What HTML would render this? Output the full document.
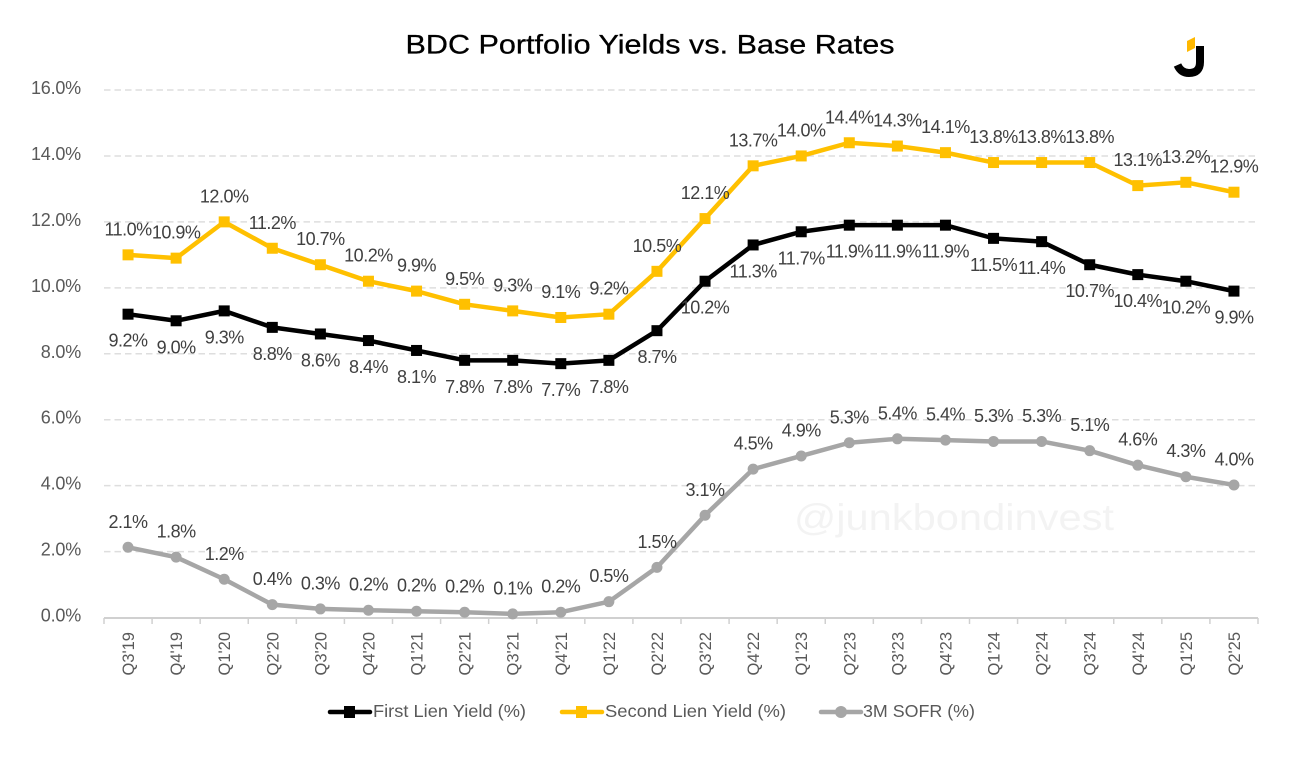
<!DOCTYPE html>
<html lang="en">
<head>
<meta charset="utf-8">
<title>BDC Portfolio Yields vs. Base Rates</title>
<style>
html,body{margin:0;padding:0;background:#fff;width:1316px;height:774px;overflow:hidden}
svg{display:block;font-family:"Liberation Sans",sans-serif}
</style>
</head>
<body>
<svg id="chart" width="1316" height="774" viewBox="0 0 1316 774" xmlns="http://www.w3.org/2000/svg">
<rect width="1316" height="774" fill="#fff"/>
<text x="650" y="53.5" text-anchor="middle" font-size="27" fill="#000" stroke="#000" stroke-width="0.3" textLength="489" lengthAdjust="spacingAndGlyphs">BDC Portfolio Yields vs. Base Rates</text>
<g>
<polygon points="1187,41 1195,37 1195,48 1187,52" fill="#ffb800"/>
<path d="M1200,46 V62 Q1200,73 1189,73 Q1181,73 1177.5,65" fill="none" stroke="#000" stroke-width="8"/>
</g>
<text x="954" y="530" text-anchor="middle" font-size="37" fill="#f3f3f3" textLength="320" lengthAdjust="spacingAndGlyphs">@junkbondinvest</text>
<g id="grid"></g>
<g id="axes"></g>
<g id="series"></g>
<g id="labels"></g>
<g font-size="17.5" fill="#595959">
<g>
<line x1="330" x2="370" y1="712" y2="712" stroke="#000" stroke-width="4.5" stroke-linecap="round"/>
<rect x="344" y="706" width="11" height="12" fill="#000"/>
<text x="373" y="717" textLength="153" lengthAdjust="spacingAndGlyphs">First Lien Yield (%)</text>
</g>
<g>
<line x1="562" x2="602" y1="712" y2="712" stroke="#ffc000" stroke-width="4.5" stroke-linecap="round"/>
<rect x="576" y="706" width="11" height="12" fill="#ffc000"/>
<text x="605" y="717" textLength="181" lengthAdjust="spacingAndGlyphs">Second Lien Yield (%)</text>
</g>
<g>
<line x1="821" x2="861" y1="712" y2="712" stroke="#a6a6a6" stroke-width="4.5" stroke-linecap="round"/>
<circle cx="841" cy="712" r="6" fill="#a6a6a6"/>
<text x="863" y="717" textLength="112" lengthAdjust="spacingAndGlyphs">3M SOFR (%)</text>
</g>
</g>
</svg>
<script>
const categories = ["Q3'19","Q4'19","Q1'20","Q2'20","Q3'20","Q4'20","Q1'21","Q2'21","Q3'21","Q4'21","Q1'22","Q2'22","Q3'22","Q4'22","Q1'23","Q2'23","Q3'23","Q4'23","Q1'24","Q2'24","Q3'24","Q4'24","Q1'25","Q2'25"];
const firstLien = [9.2,9.0,9.3,8.8,8.6,8.4,8.1,7.8,7.8,7.7,7.8,8.7,10.2,11.3,11.7,11.9,11.9,11.9,11.5,11.4,10.7,10.4,10.2,9.9];
const secondLien = [11.0,10.9,12.0,11.2,10.7,10.2,9.9,9.5,9.3,9.1,9.2,10.5,12.1,13.7,14.0,14.4,14.3,14.1,13.8,13.8,13.8,13.1,13.2,12.9];
const sofr = [2.13,1.83,1.16,0.39,0.26,0.22,0.19,0.16,0.11,0.16,0.48,1.52,3.1,4.5,4.9,5.3,5.42,5.38,5.34,5.34,5.06,4.62,4.27,4.02];
const yTicks = [0,2,4,6,8,10,12,14,16];

const NS = 'http://www.w3.org/2000/svg';
const plotLeft = 104, plotRight = 1258, plotBottom = 617.5, plotTop = 90;
const step = (plotRight - plotLeft) / categories.length;
const xScale = i => plotLeft + step * (i + 0.5);
const yScale = v => plotBottom - (v / 16) * (plotBottom - plotTop);

function make(tag, attrs, parent, txt) {
  const el = document.createElementNS(NS, tag);
  for (const k in attrs) el.setAttribute(k, attrs[k]);
  if (txt !== undefined) el.textContent = txt;
  parent.appendChild(el);
  return el;
}
const gridG = document.getElementById('grid');
const axesG = document.getElementById('axes');
const seriesG = document.getElementById('series');
const labelsG = document.getElementById('labels');

yTicks.forEach(t => {
  if (t > 0) {
    const g = make('line', {x1: plotLeft, x2: plotRight, y1: yScale(t), y2: yScale(t), stroke: '#dedede', 'stroke-width': 1.5, 'stroke-dasharray': '6.5 4'}, gridG);
    
    
  }
  const lab = make('text', {x: 81, y: yScale(t) + 4, 'text-anchor': 'end', 'font-size': 18, 'letter-spacing': -0.2, fill: '#595959'}, axesG, t.toFixed(1) + '%');
  
  
});

const axisLine = make('line', {x1: plotLeft, x2: plotRight, y1: 618, y2: 618, stroke: '#d0d0d0', 'stroke-width': 2}, axesG);



for (let i = 0; i <= categories.length; i++) {
  const tx = plotLeft + step * i;
  const tick = make('line', {x1: tx, x2: tx, y1: 618, y2: 624, stroke: '#d0d0d0', 'stroke-width': 1.5}, axesG);
  
  
}
categories.forEach((c, i) => {
  const x = xScale(i) + 6;
  const lab = make('text', {x: x, y: 632, 'text-anchor': 'end', 'font-size': 16.5, fill: '#595959', transform: 'rotate(-90 ' + x + ' 632)'}, axesG, c);
  
  
});

function drawSeries(name, values, color, marker, labelOffset) {
  const g = make('g', {}, seriesG);
  
  
  const pts = values.map((v, i) => xScale(i) + ',' + yScale(v)).join(' ');
  const line = make('polyline', {points: pts, fill: 'none', stroke: color, 'stroke-width': 4.5, 'stroke-linejoin': 'round', 'stroke-linecap': 'round'}, g);
  
  
  values.forEach((v, i) => {
    const x = xScale(i), y = yScale(v);
    let m;
    if (marker === 'square') {
      m = make('rect', {x: x - 5.5, y: y - 5.5, width: 11, height: 11, fill: color}, g);
    } else {
      m = make('circle', {cx: x, cy: y, r: 5.5, fill: color}, g);
    }
    
    
    const t = make('text', {x: x, y: y + labelOffset, 'text-anchor': 'middle', 'font-size': 18, 'letter-spacing': -0.5, fill: '#404040'}, labelsG, v.toFixed(1) + '%');
    
    
  });
}
drawSeries('first-lien', firstLien, '#000000', 'square', 32.5);
drawSeries('second-lien', secondLien, '#ffc000', 'square', -19.5);
drawSeries('sofr', sofr, '#a6a6a6', 'circle', -19.5);
</script>
</body>
</html>
